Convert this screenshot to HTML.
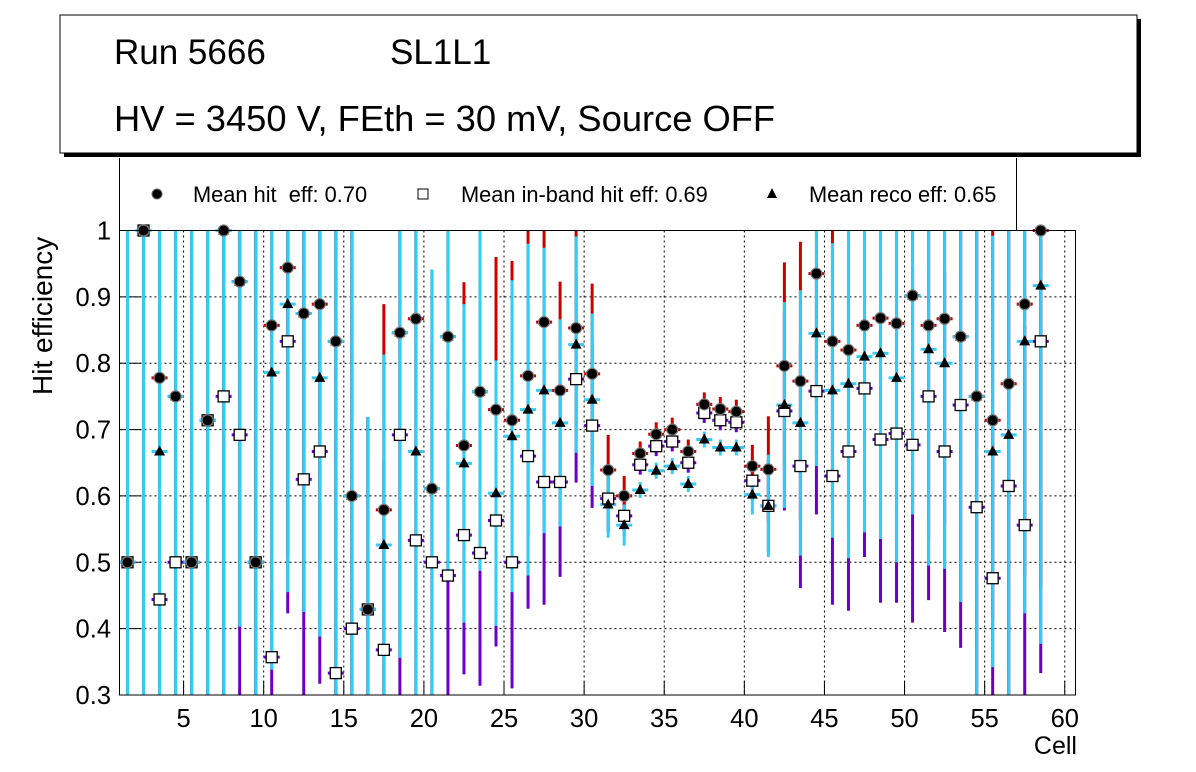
<!DOCTYPE html>
<html><head><meta charset="utf-8"><style>
body{margin:0;background:#fff;}
svg{display:block;font-family:"Liberation Sans",sans-serif;}
text{white-space:pre;}
</style></head><body>
<svg id="chart" width="1196" height="772" viewBox="0 0 1196 772">
<rect x="64" y="19" width="1077" height="138" fill="#000"/>
<rect x="60" y="15" width="1077" height="138" fill="#fff" stroke="#000" stroke-width="1"/>
<text x="114" y="64" font-size="35">Run 5666</text>
<text x="390" y="64" font-size="35">SL1L1</text>
<text x="114" y="131" font-size="36.3">HV = 3450 V, FEth = 30 mV, Source OFF</text>
<g>
<line x1="119.5" y1="158" x2="119.5" y2="230" stroke="#000"/>
<line x1="1016.5" y1="158" x2="1016.5" y2="230" stroke="#000"/>
<g><circle cx="157" cy="194" r="5" fill="#000" stroke="#666"/><text x="193" y="202" font-size="21.8" xml:space="preserve">Mean hit  eff: 0.70</text></g>
<g><rect x="418" y="189" width="10" height="10" fill="#fff" stroke="#000"/><text x="461" y="202" font-size="21.8">Mean in-band hit eff: 0.69</text></g>
<g><polygon points="772,188 777,198 767,198" fill="#000"/><text x="809" y="202" font-size="21.8">Mean reco eff: 0.65</text></g>
</g>
<g id="grid"></g>
<g id="axes"></g>
<g id="marks"></g>
<rect x="119.5" y="230.5" width="956" height="464.5" fill="none" stroke="#000"/>
<text transform="translate(52,395) rotate(-90)" font-size="28">Hit efficiency</text>
<text x="1077" y="754" font-size="25" text-anchor="end">Cell</text>
</svg>
<script>
const hitEff=[0.5,1.0,0.778,0.75,0.5,0.714,1.0,0.923,0.5,0.857,0.944,0.875,0.889,0.833,0.6,0.429,0.579,0.846,0.867,0.611,0.84,0.676,0.757,0.73,0.714,0.781,0.862,0.759,0.853,0.784,0.639,0.6,0.664,0.693,0.7,0.667,0.738,0.731,0.727,0.645,0.64,0.796,0.773,0.935,0.833,0.82,0.857,0.868,0.86,0.902,0.857,0.867,0.84,0.75,0.714,0.769,0.889,1.0];
const inbandEff=[0.5,1.0,0.444,0.5,0.5,0.714,0.75,0.692,0.5,0.357,0.833,0.625,0.667,0.333,0.4,0.429,0.368,0.692,0.533,0.5,0.48,0.541,0.514,0.563,0.5,0.66,0.621,0.621,0.776,0.706,0.596,0.57,0.647,0.675,0.682,0.65,0.725,0.714,0.711,0.623,0.585,0.728,0.645,0.758,0.63,0.667,0.762,0.685,0.694,0.677,0.75,0.667,0.737,0.583,0.476,0.615,0.556,0.833];
const recoEff=[0.5,1.0,0.667,0.75,0.5,0.714,1.0,0.923,0.5,0.786,0.889,0.875,0.778,0.833,0.6,0.429,0.526,0.846,0.667,0.611,0.84,0.649,0.757,0.604,0.69,0.73,0.759,0.71,0.828,0.745,0.587,0.556,0.609,0.638,0.645,0.618,0.685,0.673,0.673,0.602,0.585,0.737,0.71,0.845,0.759,0.769,0.81,0.815,0.778,0.902,0.821,0.8,0.84,0.75,0.667,0.692,0.833,0.917];
const recoErr=[0.7,0.7,0.7,0.7,0.7,0.7,0.7,0.52,0.7,0.448,0.434,0.45,0.39,0.7,0.7,0.29,0.287,0.49,0.7,0.33,0.36,0.24,0.27,0.2,0.235,0.25,0.215,0.156,0.163,0.13,0.05,0.031,0.012,0.012,0.012,0.012,0.012,0.012,0.012,0.03,0.077,0.155,0.2,0.2,0.222,0.263,0.265,0.28,0.278,0.33,0.326,0.31,0.4,0.7,0.325,0.7,0.41,0.54];
const hitErr=[0.7,0.7,0.7,0.7,0.7,0.7,0.7,0.52,0.7,0.448,0.434,0.45,0.39,0.7,0.7,0.29,0.31,0.49,0.7,0.33,0.36,0.246,0.27,0.23,0.24,0.24,0.15,0.164,0.16,0.136,0.053,0.03,0.018,0.018,0.018,0.018,0.018,0.018,0.018,0.032,0.08,0.156,0.21,0.2,0.2,0.263,0.265,0.28,0.278,0.33,0.326,0.31,0.4,0.7,0.3,0.7,0.41,0.54];
const inbandErr=[0.7,0.7,0.7,0.7,0.7,0.7,0.7,0.4,0.7,0.1,0.41,0.4,0.35,0.7,0.7,0.29,0.287,0.4,0.7,0.33,0.25,0.21,0.2,0.19,0.19,0.23,0.185,0.143,0.156,0.124,0.05,0.03,0.015,0.015,0.015,0.015,0.015,0.015,0.015,0.03,0.07,0.15,0.184,0.186,0.194,0.24,0.254,0.246,0.255,0.268,0.307,0.272,0.366,0.7,0.25,0.7,0.3,0.5];
const yTicks=[0.3,0.4,0.5,0.6,0.7,0.8,0.9,1];
const yTickLabels=["0.3","0.4","0.5","0.6","0.7","0.8","0.9","1"];
const xTicks=[5,10,15,20,25,30,35,40,45,50,55,60];

const NS="http://www.w3.org/2000/svg";
const X0=119.5,X1=1075.5,Y0=695,Y1=230.5;
const xMin=1,xMax=60.67,yMin=0.3,yMax=1;
function xs(v){return X0+(v-xMin)/(xMax-xMin)*(X1-X0);}
function ys(v){return Y0-(v-yMin)/(yMax-yMin)*(Y0-Y1);}
function clampY(v){return Math.max(Y1,Math.min(Y0,ys(v)));}
function mk(tag,attrs,parent){const e=document.createElementNS(NS,tag);for(const k in attrs)e.setAttribute(k,attrs[k]);parent.appendChild(e);return e;}
const grid=document.getElementById('grid'),axes=document.getElementById('axes'),marks=document.getElementById('marks');

yTicks.forEach((t,i)=>{
  const y=ys(t);
  const g=mk('line',{x1:X0,x2:X1,y1:y,y2:y,stroke:'#000','stroke-dasharray':'2,3','stroke-width':1},grid);
  
  
  const tk=mk('line',{x1:X0,x2:X0+22,y1:y,y2:y,stroke:'#000','stroke-width':1},axes);
  
  
  const lb=mk('text',{x:111,y:y+9,'font-size':25.5,'text-anchor':'end'},axes);
  lb.textContent=yTickLabels[i];
  
  
});
xTicks.forEach(t=>{
  const x=xs(t);
  const g=mk('line',{x1:x,x2:x,y1:Y1,y2:Y0,stroke:'#000','stroke-dasharray':'2,3','stroke-width':1},grid);
  
  
  const tk=mk('line',{x1:x,x2:x,y1:Y0,y2:Y0-14,stroke:'#000','stroke-width':1},axes);
  
  
  const lb=mk('text',{x:x,y:727,'font-size':25.5,'text-anchor':'middle'},axes);
  lb.textContent=String(t);
  
  
});

const halfW=(xs(2)-xs(1))/2;
function errBars(vals,errs,color,name){
  vals.forEach((v,i)=>{
    const x=xs(i+1.5);
    const l=mk('line',{x1:x,x2:x,y1:clampY(v+errs[i]),y2:clampY(v-errs[i]),stroke:color,'stroke-width':3},marks);
    
    
    const y=ys(v);
    if(y>=Y1-1&&y<=Y0){
      const h=mk('line',{x1:x-halfW,x2:x+halfW,y1:y,y2:y,stroke:color,'stroke-width':3},marks);
      
      
    }
  });
}
errBars(inbandEff,inbandErr,'#6a00cc','inband');
errBars(hitEff,hitErr,'#cc0000','hit');
errBars(recoEff,recoErr,'#33ccf5','reco');

inbandEff.forEach((v,i)=>{
  const x=xs(i+1.5),y=ys(v);
  const r=mk('rect',{x:x-5.5,y:y-5.5,width:11,height:11,fill:'#fff',stroke:'#000','stroke-width':1.3},marks);
  
  
});
recoEff.forEach((v,i)=>{
  const x=xs(i+1.5),y=ys(v);
  const p=mk('polygon',{points:`${x},${y-6} ${x+5.5},${y+4} ${x-5.5},${y+4}`,fill:'#000'},marks);
  
  
});
hitEff.forEach((v,i)=>{
  const x=xs(i+1.5),y=ys(v);
  const c=mk('circle',{cx:x,cy:y,r:5.5,fill:'#000',stroke:'#777','stroke-width':1.2},marks);
  
  
});
</script>
</body></html>
